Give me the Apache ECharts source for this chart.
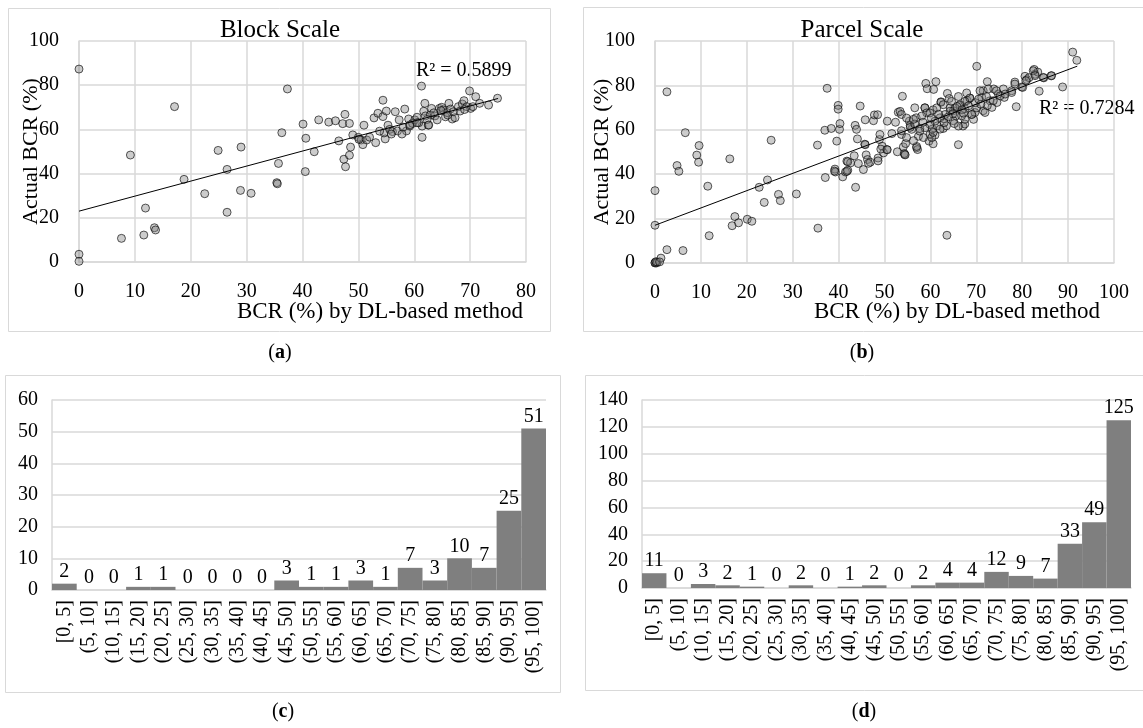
<!DOCTYPE html>
<html>
<head>
<meta charset="utf-8">
<script src="https://cdn.jsdelivr.net/npm/echarts@6/dist/echarts.min.js"></script>
<style>
  html, body { margin: 0; padding: 0; background: #fff; }
  #main { width: 1143px; height: 728px; }
</style>
</head>
<body>
<div id="main"></div>
<script>
// (a) block scale: [BCR by DL-based method, actual BCR]
const blockPts = [
  [0,87.3],[0,3.5],[0,0.3],[7.6,10.7],[9.2,48.4],[11.9,24.4],[11.6,12.2],[13.5,15.5],[13.7,14.5],
  [17.1,70.3],[18.8,37.4],[22.5,30.9],[24.9,50.5],[26.5,41.9],[26.5,22.5],[29.0,52.0],[28.9,32.4],
  [30.8,31.1],[35.4,35.9],[35.5,35.4],[35.7,44.6],[36.3,58.5],[37.3,78.3],[40.1,62.4],[40.6,56.0],
  [40.5,40.9],[42.1,49.9],[42.9,64.3],[44.7,63.3],[45.9,63.9],[46.5,54.8],[47.2,62.6],[47.6,66.8],
  [48.4,62.7],[47.4,46.5],[47.7,43.1],[48.4,48.3],[48.6,52.0],[49.0,57.5],[50.0,56.4],[50.5,55.2],
  [50.8,53.1],[51.0,61.9],[51.5,55.2],[53.1,54.0],[52.8,65.2],[53.5,67.3],[54.4,73.2],[54.4,65.8],
  [55.0,68.3],[54.8,55.7],[54.6,58.4],[55.3,61.9],[55.6,60.0],[56.1,59.0],[56.6,68.0],[57.0,59.3],
  [57.3,64.3],[58.3,69.2],[58.6,59.3],[59.0,64.7],[59.2,61.5],[59.7,62.7],[60.1,64.3],[60.5,65.5],
  [61.3,79.6],[61.4,56.4],[61.4,61.5],[61.7,68.2],[61.9,71.8],[62.0,66.1],[62.5,61.9],[62.9,66.5],
  [63.1,69.5],[63.7,66.1],[64.1,64.3],[64.5,69.5],[64.9,70.0],[65.2,68.8],[65.6,65.7],[65.9,67.6],
  [66.2,71.8],[66.5,69.2],[66.8,64.7],[67.3,65.3],[67.9,70.3],[68.2,68.3],[68.6,71.5],[68.9,73.0],
  [69.4,70.3],[69.9,77.4],[70.1,69.5],[70.5,70.3],[71.0,74.8],[71.7,71.8],[73.3,71.0],[74.9,74.1],
  [63.5,67.5],[64.8,68.5],[66.0,66.5],[60.8,63.0],[62.3,64.5],[67.0,68.0],[69.0,69.0],[58.0,61.0],
  [53.8,59.2],[52.0,56.5],[57.8,57.9],[55.9,57.9],[50.1,55.5],[59.2,62.0],[60.5,63.0],[62.6,62.0]
];

// (b) parcel scale
const parcelPts = [
  [0,32.6],[0,17.0],[0,0],[0,0.2],[0.3,0],[0.5,0.4],[0.2,0.6],[1.3,2.2],[1.0,0.5],[2.6,6.0],[2.6,77.1],
  [6.1,5.6],[4.8,43.9],[5.2,41.3],[6.6,58.7],[9.1,48.6],[9.5,45.4],[9.6,52.9],[11.5,34.6],[11.8,12.3],
  [16.3,46.9],[16.8,16.8],[17.4,20.9],[18.2,18.1],[20.1,19.7],[21.1,18.8],[22.7,34.1],[23.8,27.3],
  [24.5,37.4],[25.3,55.3],[26.9,30.9],[27.3,28.1],[30.8,31.1],[35.4,53.1],[35.5,15.7],[37.5,78.7],
  [37.0,59.8],[37.1,38.5],[38.4,60.6],[39.6,54.9],[39.9,71.0],[39.9,69.3],[40.2,60.2],[40.3,62.8],
  [39.2,42.3],[39.3,41.0],[40.9,38.8],[41.5,41.0],[42.0,41.8],[41.8,45.9],[42.6,45.1],[43.4,48.3],
  [43.6,62.0],[43.9,60.2],[43.7,34.1],[44.1,55.9],[44.7,70.7],[45.8,64.5],[47.6,64.1],[47.8,66.7],
  [48.5,66.8],[45.7,53.5],[46.0,48.7],[46.3,46.6],[46.9,45.4],[45.4,42.1],[44.3,44.8],[42.0,45.6],
  [39.1,41.4],[41.8,41.3],[48.6,47.3],[48.9,55.6],[49.0,57.9],[49.5,52.6],[49.8,49.6],[50.6,63.9],
  [50.5,51.1],[51.6,58.3],[52.4,63.4],[52.8,50.1],[53.0,67.9],[53.4,68.3],[53.9,75.1],[53.7,57.9],
  [54.1,52.3],[54.4,48.9],[54.6,53.8],[55.4,63.9],[55.9,60.2],[56.6,69.9],[56.9,65.4],[57.0,51.9],
  [57.4,57.1],[91.0,95.0],[91.9,91.3],[70.1,88.6],[63.6,12.5],[59.0,80.9],[59.3,78.5],[61.2,81.7],
  [60.7,78.2],[63.7,76.4],[53.7,66.9],[58.8,69.9],[62.3,72.6],[64.1,74.1],[64.3,69.9],[66.1,53.3],
  [59.7,54.9],[60.6,53.7],[61.0,57.6],[59.9,57.9],[57.2,51.1],[57.0,52.5],[54.3,49.3],[45.8,53.3],
  [48.6,46.0],[46.5,44.9],[49.2,51.3],[50.6,51.0],[55.6,61.9],[57.7,60.6],[60.4,60.3],[61.5,61.8],
  [62.8,60.6],[63.0,64.9],[65.0,68.6],[65.6,66.3],[66.4,70.9],[67.5,69.5],[68.0,73.2],[68.6,74.3],
  [67.1,61.7],[67.5,62.6],[69.0,66.9],[69.4,64.7],[69.7,67.8],[71.5,68.6],[71.9,67.8],[71.2,74.6],
  [71.5,77.6],[72.4,81.7],[73.0,73.1],[73.4,70.1],[73.8,78.4],[74.5,72.3],[74.8,76.1],[75.9,78.4],
  [76.1,74.6],[77.7,77.6],[78.7,70.4],[78.4,81.5],[79.9,79.3],[80.6,84.1],[81.0,82.6],[81.5,83.5],
  [82.6,87.2],[82.8,85.0],[83.4,86.0],[83.7,77.4],[84.7,83.4],[86.3,84.3],[88.8,79.3],
  [62.3,72.4],[58.8,69.9],[60.6,69.0],[59.2,67.6],[68.6,74.3],[67.5,72.8],[66.4,71.3],[65.4,69.8],
  [64.3,68.4],[63.2,66.9],[62.1,65.4],[61.0,63.9],[59.9,62.4],[58.8,60.9],[57.7,59.4],
  [70.8,77.6],[72.6,78.4],[74.4,77.6],[75.2,75.3],[76.3,76.1],[77.7,76.8],[78.4,80.6],[80.1,79.1],
  [80.8,82.1],[82.4,86.6],[82.8,84.4],[84.6,83.6],[86.4,84.4],[72.4,70.9],[73.7,73.1],[70.1,69.9],
  [69.0,66.9],[67.5,64.7],[66.1,61.7],[60.3,56.5],[54.5,48.7],[66.8,66.3],[65.0,64.1],[63.5,61.8],
  [62.1,60.3],[60.6,58.8],[58.5,56.5],[56.3,55.1],[54.8,56.5],[55.6,61.1],[56.6,62.6],[54.8,65.3],
  [53.7,59.6],[67.9,76.6],[66.1,75.0],[64.6,72.8],[62.8,71.3],[61.4,69.9],[59.9,67.6],[58.1,66.2],
  [56.3,64.7],[65.8,70.5],[66.9,69.0],[64.9,67.2],[63.9,65.8],[68.3,70.8],[69.8,72.2],[71.0,71.5],
  [72.2,75.0],[70.5,73.8],[67.2,67.5],[65.2,62.8],[63.0,63.2],[61.8,67.0],[60.2,65.2],[58.4,63.4]
];

// trend lines: intercept, slope, x extent
const blockFit = { a: 23.0, b: 0.68, xMax: 75 };
const parcelFit = { a: 17.0, b: 0.779, xMax: 92 };

// (c)/(d) histograms
const bins = ['[0, 5]', '(5, 10]', '(10, 15]', '(15, 20]', '(20, 25]', '(25, 30]', '(30, 35]',
  '(35, 40]', '(40, 45]', '(45, 50]', '(50, 55]', '(55, 60]', '(60, 65]', '(65, 70]', '(70, 75]',
  '(75, 80]', '(80, 85]', '(85, 90]', '(90, 95]', '(95, 100]'];
const blockCounts = [2, 0, 0, 1, 1, 0, 0, 0, 0, 3, 1, 1, 3, 1, 7, 3, 10, 7, 25, 51];
const parcelCounts = [11, 0, 3, 2, 1, 0, 2, 0, 1, 2, 0, 2, 4, 4, 12, 9, 7, 33, 49, 125];

const FONT = 'Liberation Serif';
const GRID_C = '#d9d9d9';

function fitLine(f) {
  return [[0, f.a], [f.xMax, f.a + f.b * f.xMax]];
}

let chart = echarts.init(document.getElementById('main'));

const tickLabel = { color: '#000', fontFamily: FONT, fontSize: 20 };

function scatterX(idx, max) {
  return {
    type: 'value', gridIndex: idx, min: 0, max: max, interval: 10,
    axisLine: { show: true, lineStyle: { color: GRID_C, width: 1.5 } },
    axisTick: { show: false },
    splitLine: { show: true, lineStyle: { color: GRID_C, width: 1.5 } },
    axisLabel: Object.assign({ margin: 20 }, tickLabel)
  };
}
function scatterY(idx, gap) {
  return {
    type: 'value', gridIndex: idx, min: 0, max: 100, interval: 20,
    name: 'Actual BCR (%)', nameLocation: 'middle', nameGap: gap, nameRotate: 90,
    nameMoveOverlap: false,
    nameTextStyle: { color: '#000', fontFamily: FONT, fontSize: 22 },
    axisLine: { show: true, lineStyle: { color: GRID_C, width: 1.5 } },
    axisTick: { show: false },
    splitLine: { show: true, lineStyle: { color: GRID_C, width: 1.5 } },
    axisLabel: Object.assign({ margin: 20 }, tickLabel)
  };
}
function histX(idx) {
  return {
    type: 'category', gridIndex: idx, data: bins,
    axisLine: { show: true, lineStyle: { color: GRID_C, width: 1.5 } },
    axisTick: { show: false },
    axisLabel: Object.assign({ rotate: 90, margin: 10, interval: 0 }, tickLabel)
  };
}
function histY(idx, max, step) {
  return {
    type: 'value', gridIndex: idx, min: 0, max: max, interval: step,
    axisLine: { show: true, lineStyle: { color: GRID_C, width: 1.5 } },
    axisTick: { show: false },
    splitLine: { show: true, lineStyle: { color: GRID_C, width: 1.5 } },
    axisLabel: Object.assign({ margin: 14 }, tickLabel)
  };
}

const dotStyle = { color: 'rgba(128,128,128,0.5)', borderColor: '#000', borderWidth: 0.8 };
const barLabel = { show: true, position: 'top', distance: 2, color: '#000', fontFamily: FONT, fontSize: 20 };

function txt(x, y, s, size, align) {
  return {
    type: 'text', x: x, y: y,
    style: { text: s, fill: '#000', font: size + 'px "' + FONT + '"', align: align || 'center', verticalAlign: 'middle' }
  };
}
function frame(x, y, w, h) {
  return { type: 'rect', shape: { x: x, y: y, width: w, height: h }, style: { fill: 'none', stroke: GRID_C, lineWidth: 1 }, z: -1 };
}
function caption(x, y, letter) {
  return {
    type: 'text', x: x, y: y,
    style: {
      text: '({b|' + letter + '})', fill: '#000', font: '20px "' + FONT + '"', align: 'center', verticalAlign: 'middle',
      rich: { b: { fontWeight: 'bold', fontFamily: FONT, fontSize: 20 } }
    }
  };
}

let option = {
  animation: false,
  backgroundColor: '#fff',
  grid: [
    { left: 79, top: 41, width: 447, height: 221 },
    { left: 655, top: 41, width: 459, height: 222 },
    { left: 52, top: 400, width: 494, height: 190 },
    { left: 642, top: 400, width: 489, height: 188 }
  ],
  xAxis: [scatterX(0, 80), scatterX(1, 100), histX(2), histX(3)],
  yAxis: [scatterY(0, 37), scatterY(1, 42), histY(2, 60, 10), histY(3, 140, 20)],
  series: [
    { type: 'scatter', xAxisIndex: 0, yAxisIndex: 0, data: blockPts, symbolSize: 8, itemStyle: dotStyle },
    { type: 'line', xAxisIndex: 0, yAxisIndex: 0, data: fitLine(blockFit), symbol: 'none', lineStyle: { color: '#000', width: 1 } },
    { type: 'scatter', xAxisIndex: 1, yAxisIndex: 1, data: parcelPts, symbolSize: 8, itemStyle: dotStyle },
    { type: 'line', xAxisIndex: 1, yAxisIndex: 1, data: fitLine(parcelFit), symbol: 'none', lineStyle: { color: '#000', width: 1 } },
    { type: 'bar', xAxisIndex: 2, yAxisIndex: 2, data: blockCounts, barCategoryGap: '0%', itemStyle: { color: '#7f7f7f' }, label: barLabel },
    { type: 'bar', xAxisIndex: 3, yAxisIndex: 3, data: parcelCounts, barCategoryGap: '0%', itemStyle: { color: '#7f7f7f' }, label: barLabel }
  ],
  graphic: [
    frame(8.5, 8.5, 542, 323),
    frame(583.5, 7.5, 560, 324),
    frame(5.5, 375.5, 555, 317),
    frame(585.5, 375.5, 558, 315),
    txt(280, 30, 'Block Scale', 25),
    txt(862, 30, 'Parcel Scale', 25),
    txt(416, 71, 'R² = 0.5899', 20, 'left'),
    txt(1039, 109, 'R² = 0.7284', 20, 'left'),
    txt(380, 312, 'BCR (%) by DL-based method', 23),
    txt(957, 312, 'BCR (%) by DL-based method', 23),
    caption(280, 353, 'a'),
    caption(862, 353, 'b'),
    caption(283, 712, 'c'),
    caption(864, 712, 'd')
  ]
};

option && chart.setOption(option);
</script>
</body>
</html>
